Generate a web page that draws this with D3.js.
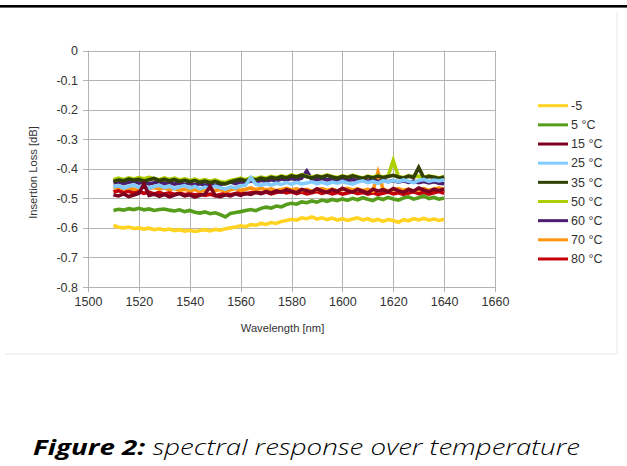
<!DOCTYPE html>
<html>
<head>
<meta charset="utf-8">
<script src="https://cdn.jsdelivr.net/npm/d3@7"></script>
<style>
  body { margin: 0; background: #fff; }
  svg { display: block; }
</style>
</head>
<body>
<svg id="chart" width="627" height="466"></svg>
<script>
// wavelength grid (nm), sampled every 2 nm
const wavelengths = d3.range(1510, 1641, 2);

// insertion loss [dB] per temperature
const il_m5 = [
  -0.592,-0.598,-0.600,-0.597,-0.602,-0.600,-0.604,-0.601,-0.606,-0.603,
  -0.607,-0.604,-0.609,-0.606,-0.611,-0.608,-0.612,-0.609,-0.606,-0.610,
  -0.605,-0.608,-0.603,-0.600,-0.597,-0.593,-0.596,-0.589,-0.591,-0.585,
  -0.588,-0.582,-0.585,-0.578,-0.575,-0.571,-0.574,-0.566,-0.569,-0.563,
  -0.570,-0.566,-0.572,-0.567,-0.574,-0.569,-0.575,-0.570,-0.566,-0.573,
  -0.569,-0.576,-0.571,-0.578,-0.572,-0.575,-0.581,-0.572,-0.576,-0.569,
  -0.573,-0.568,-0.574,-0.570,-0.575,-0.571
];
const il_5 = [
  -0.541,-0.537,-0.540,-0.535,-0.538,-0.534,-0.539,-0.536,-0.541,-0.538,
  -0.536,-0.540,-0.543,-0.539,-0.545,-0.541,-0.547,-0.550,-0.546,-0.552,
  -0.549,-0.555,-0.563,-0.551,-0.548,-0.545,-0.541,-0.538,-0.542,-0.534,
  -0.530,-0.533,-0.526,-0.529,-0.521,-0.517,-0.520,-0.512,-0.515,-0.509,
  -0.513,-0.506,-0.510,-0.504,-0.508,-0.502,-0.507,-0.500,-0.505,-0.498,
  -0.503,-0.508,-0.499,-0.504,-0.497,-0.502,-0.506,-0.499,-0.495,-0.503,
  -0.498,-0.492,-0.501,-0.497,-0.503,-0.499
];
const il_15 = [
  -0.488,-0.492,-0.485,-0.494,-0.489,-0.483,-0.452,-0.490,-0.486,-0.493,
  -0.487,-0.495,-0.489,-0.484,-0.492,-0.488,-0.496,-0.490,-0.486,-0.460,
  -0.491,-0.494,-0.488,-0.492,-0.485,-0.490,-0.483,-0.487,-0.480,-0.484,
  -0.477,-0.482,-0.475,-0.479,-0.471,-0.476,-0.481,-0.470,-0.474,-0.479,
  -0.468,-0.475,-0.480,-0.471,-0.477,-0.466,-0.474,-0.479,-0.470,-0.476,
  -0.482,-0.469,-0.475,-0.471,-0.478,-0.467,-0.474,-0.480,-0.470,-0.476,
  -0.465,-0.472,-0.478,-0.469,-0.474,-0.468
];
const il_25 = [
  -0.462,-0.457,-0.465,-0.459,-0.455,-0.463,-0.458,-0.466,-0.460,-0.456,
  -0.464,-0.459,-0.467,-0.461,-0.457,-0.465,-0.460,-0.468,-0.462,-0.466,
  -0.459,-0.464,-0.469,-0.461,-0.465,-0.458,-0.455,-0.430,-0.452,-0.456,
  -0.450,-0.455,-0.449,-0.453,-0.447,-0.452,-0.446,-0.451,-0.448,-0.444,
  -0.450,-0.446,-0.452,-0.445,-0.449,-0.443,-0.448,-0.452,-0.445,-0.441,
  -0.447,-0.443,-0.449,-0.440,-0.445,-0.439,-0.444,-0.438,-0.442,-0.447,
  -0.440,-0.436,-0.443,-0.438,-0.441,-0.437
];
const il_35 = [
  -0.443,-0.438,-0.441,-0.435,-0.439,-0.436,-0.442,-0.437,-0.433,-0.440,
  -0.436,-0.441,-0.437,-0.443,-0.439,-0.444,-0.440,-0.446,-0.442,-0.447,
  -0.443,-0.449,-0.451,-0.445,-0.440,-0.436,-0.441,-0.434,-0.438,-0.432,
  -0.436,-0.429,-0.433,-0.427,-0.431,-0.424,-0.428,-0.422,-0.427,-0.431,
  -0.425,-0.429,-0.423,-0.428,-0.432,-0.426,-0.430,-0.424,-0.429,-0.433,
  -0.427,-0.431,-0.425,-0.430,-0.426,-0.422,-0.428,-0.432,-0.425,-0.429,
  -0.396,-0.431,-0.426,-0.429,-0.433,-0.428
];
const il_50 = [
  -0.436,-0.432,-0.437,-0.431,-0.435,-0.430,-0.434,-0.429,-0.433,-0.437,
  -0.431,-0.436,-0.432,-0.438,-0.434,-0.439,-0.435,-0.441,-0.437,-0.442,
  -0.438,-0.444,-0.446,-0.440,-0.436,-0.432,-0.437,-0.430,-0.434,-0.428,
  -0.432,-0.426,-0.430,-0.424,-0.428,-0.421,-0.426,-0.420,-0.425,-0.429,
  -0.423,-0.427,-0.421,-0.426,-0.430,-0.424,-0.428,-0.422,-0.427,-0.431,
  -0.425,-0.429,-0.423,-0.428,-0.424,-0.372,-0.426,-0.430,-0.423,-0.427,
  -0.425,-0.429,-0.424,-0.427,-0.431,-0.426
];
const il_60 = [
  -0.448,-0.444,-0.450,-0.446,-0.442,-0.449,-0.445,-0.451,-0.447,-0.443,
  -0.450,-0.446,-0.452,-0.448,-0.453,-0.449,-0.455,-0.451,-0.456,-0.452,
  -0.457,-0.453,-0.449,-0.445,-0.450,-0.444,-0.448,-0.441,-0.445,-0.439,
  -0.443,-0.437,-0.441,-0.435,-0.438,-0.433,-0.437,-0.432,-0.408,-0.436,
  -0.437,-0.433,-0.438,-0.434,-0.439,-0.435,-0.440,-0.436,-0.441,-0.437,
  -0.442,-0.438,-0.443,-0.439,-0.444,-0.440,-0.445,-0.441,-0.446,-0.442,
  -0.447,-0.443,-0.448,-0.444,-0.449,-0.451
];
const il_70 = [
  -0.466,-0.462,-0.468,-0.464,-0.470,-0.465,-0.461,-0.467,-0.463,-0.469,
  -0.465,-0.471,-0.467,-0.473,-0.469,-0.474,-0.470,-0.476,-0.472,-0.468,
  -0.474,-0.470,-0.476,-0.471,-0.467,-0.473,-0.469,-0.465,-0.471,-0.466,
  -0.472,-0.468,-0.474,-0.470,-0.466,-0.472,-0.468,-0.474,-0.470,-0.476,
  -0.471,-0.467,-0.473,-0.469,-0.475,-0.470,-0.466,-0.472,-0.468,-0.474,
  -0.470,-0.476,-0.412,-0.469,-0.475,-0.471,-0.467,-0.473,-0.469,-0.475,
  -0.471,-0.467,-0.473,-0.469,-0.465,-0.470
];
const il_80 = [
  -0.478,-0.474,-0.480,-0.476,-0.482,-0.477,-0.483,-0.479,-0.485,-0.480,
  -0.486,-0.481,-0.487,-0.482,-0.488,-0.484,-0.489,-0.485,-0.490,-0.486,
  -0.491,-0.487,-0.483,-0.488,-0.484,-0.480,-0.485,-0.481,-0.477,-0.483,
  -0.479,-0.485,-0.480,-0.476,-0.482,-0.478,-0.484,-0.479,-0.485,-0.481,
  -0.477,-0.483,-0.479,-0.485,-0.480,-0.486,-0.482,-0.478,-0.484,-0.480,
  -0.486,-0.481,-0.487,-0.483,-0.479,-0.485,-0.481,-0.487,-0.482,-0.478,
  -0.484,-0.480,-0.486,-0.481,-0.477,-0.483
];

const seriesNames = ['-5', '5 °C', '15 °C', '25 °C', '35 °C', '50 °C', '60 °C', '70 °C', '80 °C'];
const seriesColors = ['#ffd320', '#579d1c', '#7e0021', '#83caff', '#314004', '#aecf00', '#4b1f6f', '#ff950e', '#c5000b'];
const seriesValues = [il_m5, il_5, il_15, il_25, il_35, il_50, il_60, il_70, il_80];

const xTicks = [1500, 1520, 1540, 1560, 1580, 1600, 1620, 1640, 1660];
const yTicks = [0, -0.1, -0.2, -0.3, -0.4, -0.5, -0.6, -0.7, -0.8];

const svg = d3.select('#chart');
const font = '"Liberation Sans", Arial, sans-serif';

// header rule and panel frame
svg.append('rect').attr('x', 0).attr('y', 5).attr('width', 627).attr('height', 2.6).attr('fill', '#000');
svg.append('path')
    .attr('d', 'M617,12V354H5')
    .attr('fill', 'none')
    .attr('stroke', '#e6e6e6')
    .attr('stroke-width', 1);

let x = d3.scaleLinear().domain([1500, 1660]).range([88, 495]);
let y = d3.scaleLinear().domain([0, -0.8]).range([50.5, 287]);

// gridlines
let grid = svg.append('g').attr('stroke', '#b3b3b3').attr('stroke-width', 1);
grid.selectAll('.hgrid').data(yTicks).enter().append('line')
    .attr('class', 'hgrid')
    .attr('x1', 83).attr('x2', x(1660))
    .attr('y1', d => Math.round(y(d)) + 0.5).attr('y2', d => Math.round(y(d)) + 0.5);
grid.selectAll('.vgrid').data(xTicks).enter().append('line')
    .attr('class', 'vgrid')
    .attr('x1', d => Math.round(x(d)) + 0.5).attr('x2', d => Math.round(x(d)) + 0.5)
    .attr('y1', y(0)).attr('y2', y(-0.8) + 5);

// axes (labels only, lines drawn by the grid)
let yAxis = svg.append('g')
    .attr('transform', 'translate(' + 80 + ',0)')
    .call(d3.axisLeft(y).tickValues(yTicks).tickSize(0).tickPadding(2)
        .tickFormat(d => d === 0 ? '0' : d3.format('.1f')(d).replace('−', '-')));
yAxis.select('.domain').remove();
yAxis.selectAll('text').attr('font-family', font).attr('font-size', 12.5).attr('fill', '#333');

let xAxis = svg.append('g')
    .attr('transform', 'translate(0,' + 292 + ')')
    .call(d3.axisBottom(x).tickValues(xTicks).tickSize(0).tickPadding(5).tickFormat(d3.format('d')));
xAxis.select('.domain').remove();
xAxis.selectAll('text').attr('font-family', font).attr('font-size', 12.5).attr('fill', '#333');

// axis titles
svg.append('text')
    .attr('transform', 'translate(37,172.5) rotate(-90)')
    .attr('text-anchor', 'middle')
    .attr('font-family', font).attr('font-size', 11.2).attr('fill', '#333')
    .text('Insertion Loss [dB]');
svg.append('text')
    .attr('x', 282.5).attr('y', 332)
    .attr('text-anchor', 'middle')
    .attr('font-family', font).attr('font-size', 11.2).attr('fill', '#333')
    .text('Wavelength [nm]');

// series, last legend entry drawn first
let line = d3.line()
    .x((d, i) => x(wavelengths[i]))
    .y(d => y(d));
let lines = svg.append('g');
for (let i = seriesValues.length - 1; i >= 0; --i) {
    lines.append('path')
        .datum(seriesValues[i])
        .attr('d', line)
        .attr('fill', 'none')
        .attr('stroke', seriesColors[i])
        .attr('stroke-width', 3.6);
}

// legend
let legend = svg.append('g');
seriesNames.forEach(function(name, i) {
    let ly = 105.7 + i * 19.16;
    legend.append('line')
        .attr('x1', 538).attr('x2', 568)
        .attr('y1', ly).attr('y2', ly)
        .attr('stroke', seriesColors[i])
        .attr('stroke-width', 3);
    legend.append('text')
        .attr('x', 571).attr('y', ly + 4.3)
        .attr('font-family', font).attr('font-size', 12.5).attr('fill', '#333')
        .text(name);
});

// caption
let caption = svg.append('text')
    .attr('x', 33).attr('y', 455)
    .attr('font-family', '"Open Sans", Lato, sans-serif')
    .attr('font-size', 22)
    .attr('font-style', 'italic')
    .attr('fill', '#000')
    .attr('textLength', 547)
    .attr('lengthAdjust', 'spacingAndGlyphs');
caption.append('tspan').attr('font-weight', 'bold').text('Figure 2:');
caption.append('tspan').attr('font-weight', 300).text(' spectral response over temperature');
</script>
</body>
</html>
